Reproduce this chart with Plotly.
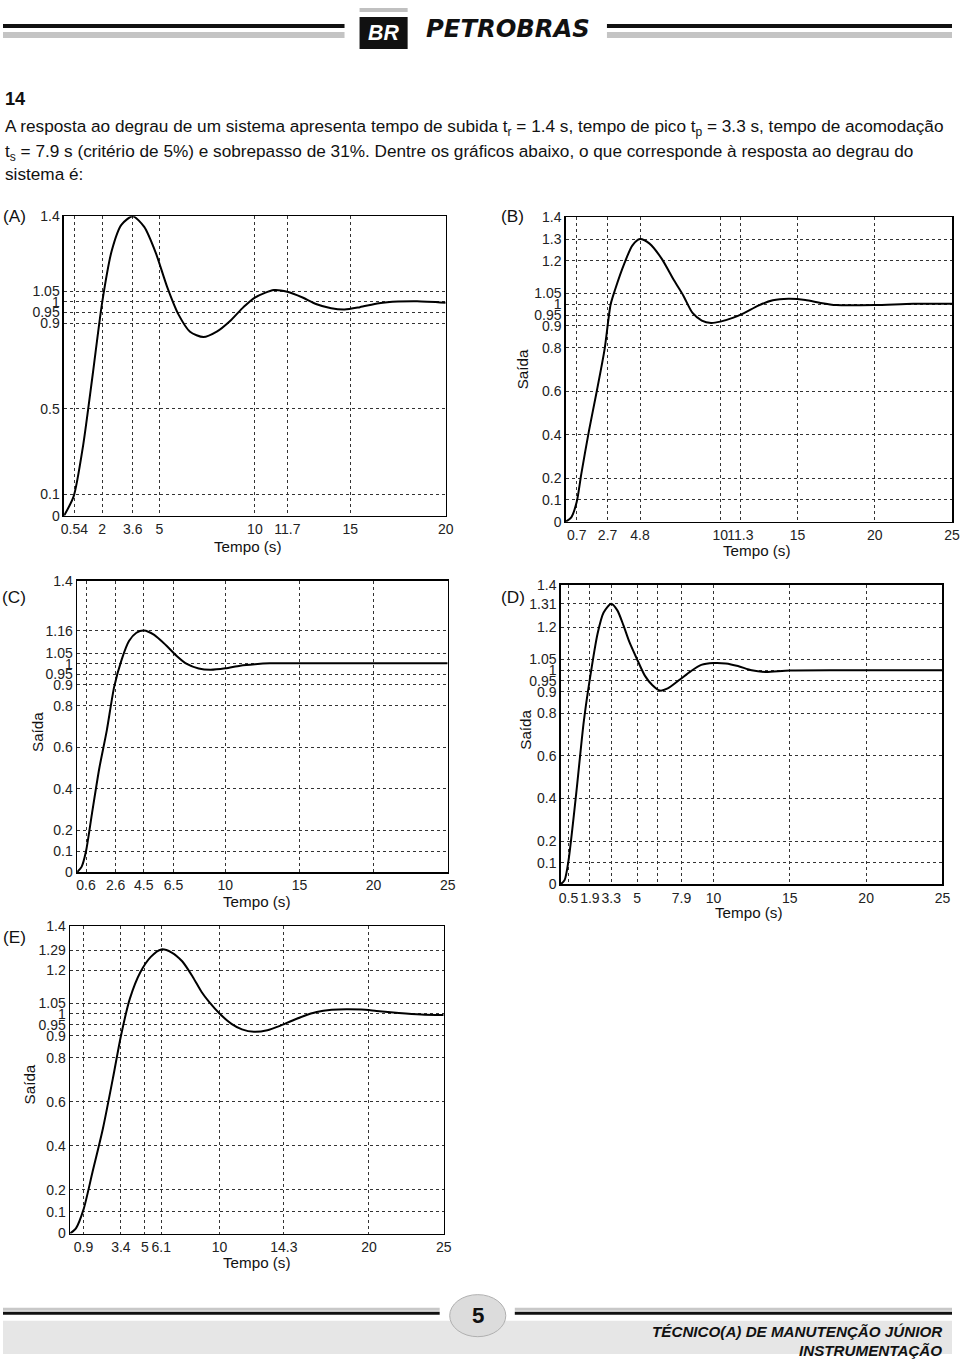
import plotly.graph_objects as go

W, H = 960, 1362
# the photographed page comes out slightly shrunk and shifted; these undo it
S, OX, OY = 0.987, 4.0, 7.0

# ---- step response curves (time in s, output) ----
a_t = [0, 0.5, 1.0, 1.5, 2.0, 2.5, 3.0, 3.6, 4.2, 4.8, 5.4, 6.0, 6.6, 7.3, 8.0, 8.7, 9.4, 10.0, 11.0, 11.7,
       12.5, 13.2, 14.0, 14.7, 15.5, 16.5, 17.5, 18.5, 20.0]
a_y = [0, 0.09, 0.33, 0.66, 1.0, 1.24, 1.36, 1.40, 1.35, 1.23, 1.07, 0.94, 0.86, 0.835, 0.86, 0.91, 0.975,
       1.02, 1.055, 1.047, 1.02, 0.99, 0.97, 0.964, 0.975, 0.993, 1.001, 1.003, 0.996]

b_t = [0, 0.35, 0.7, 1.0, 1.5, 2.0, 2.5, 2.9, 3.2, 3.8, 4.3, 4.8, 5.4, 6.2, 7.0, 7.6, 8.2, 8.8, 9.4, 10.0,
       10.8, 11.5, 12.5, 13.4, 14.4, 15.5, 16.5, 17.5, 20.0, 22.5, 25.0]
b_y = [0, 0.02, 0.09, 0.22, 0.42, 0.6, 0.79, 1.0, 1.07, 1.19, 1.27, 1.30, 1.28, 1.21, 1.11, 1.04, 0.96, 0.925,
       0.914, 0.92, 0.937, 0.958, 0.995, 1.018, 1.025, 1.02, 1.006, 0.996, 0.996, 1.002, 1.002]

c_t = [0, 0.3, 0.6, 1.0, 1.5, 2.0, 2.5, 3.0, 3.5, 4.0, 4.5, 5.2, 6.0, 6.7, 7.4, 8.2, 9.0, 10.0, 11.0, 12.0,
       13.0, 17.0, 25.0]
c_y = [0, 0.025, 0.1, 0.28, 0.5, 0.68, 0.89, 1.02, 1.11, 1.15, 1.161, 1.14, 1.09, 1.04, 1.0, 0.978, 0.972,
       0.979, 0.992, 0.999, 1.003, 1.003, 1.003]

d_t = [0, 0.25, 0.5, 1.0, 1.5, 1.9, 2.4, 2.8, 3.3, 3.7, 4.1, 4.5, 4.95, 5.5, 6.0, 6.5, 7.0, 7.8, 8.5, 9.2,
       10.0, 10.8, 11.6, 12.5, 13.4, 15.0, 20.0, 25.0]
d_y = [0, 0.02, 0.11, 0.42, 0.76, 0.96, 1.17, 1.27, 1.311, 1.28, 1.21, 1.13, 1.058, 0.975, 0.93, 0.905,
       0.915, 0.957, 0.995, 1.025, 1.034, 1.032, 1.02, 1.0, 0.992, 0.999, 1.0, 1.0]

e_t = [0, 0.4, 0.9, 1.5, 2.2, 2.9, 3.4, 4.0, 4.7, 5.4, 6.1, 6.8, 7.5, 8.2, 8.8, 9.3, 10.0, 10.8, 11.5, 12.3,
       13.2, 14.0, 14.8, 15.6, 16.5, 17.5, 18.5, 19.5, 20.5, 22.0, 23.5, 25.0]
e_y = [0, 0.025, 0.11, 0.28, 0.48, 0.72, 0.9, 1.07, 1.19, 1.26, 1.294, 1.28, 1.24, 1.17, 1.1, 1.055, 1.002,
       0.955, 0.93, 0.919, 0.926, 0.945, 0.968, 0.99, 1.009, 1.019, 1.022, 1.02, 1.014, 1.005, 0.998, 0.995]

# ---- tick values / labels ----
a_xticks = [0.54, 2, 3.6, 5, 10, 11.7, 15, 20]
a_xlabels = ["0.54", "2", "3.6", "5", "10", "11.7", "15", "20"]
a_yticks = [0, 0.1, 0.5, 0.9, 0.95, 1, 1.05, 1.4]

b_xticks = [0.7, 2.7, 4.8, 10, 11.3, 15, 20, 25]
b_xlabels = ["0.7", "2.7", "4.8", "10", "11.3", "15", "20", "25"]
b_yticks = [0, 0.1, 0.2, 0.4, 0.6, 0.8, 0.9, 0.95, 1, 1.05, 1.2, 1.3, 1.4]

c_xticks = [0.6, 2.6, 4.5, 6.5, 10, 15, 20, 25]
c_xlabels = ["0.6", "2.6", "4.5", "6.5", "10", "15", "20", "25"]
c_yticks = [0, 0.1, 0.2, 0.4, 0.6, 0.8, 0.9, 0.95, 1, 1.05, 1.16, 1.4]

d_xticks = [0.5, 1.9, 3.3, 5, 6.3, 7.9, 10, 15, 20, 25]
d_xlabels = ["0.5", "1.9", "3.3", "5", "", "7.9", "10", "15", "20", "25"]
d_yticks = [0, 0.1, 0.2, 0.4, 0.6, 0.8, 0.9, 0.95, 1, 1.05, 1.2, 1.31, 1.4]

e_xticks = [0.9, 3.4, 5, 6.1, 10, 14.3, 20, 25]
e_xlabels = ["0.9", "3.4", "5", "6.1", "10", "14.3", "20", "25"]
e_yticks = [0, 0.1, 0.2, 0.4, 0.6, 0.8, 0.9, 0.95, 1, 1.05, 1.2, 1.29, 1.4]

FONT = "Liberation Sans, Arial, sans-serif"


# target page pixel -> paper fraction
def px(x):
    return min(1.0, max(0.0, (x - OX) / S / W))


def py(y):
    return min(1.0, max(0.0, 1 - (y - OY) / S / H))


def fs(size):
    return round(size / S, 1)


fig = go.Figure()


def add_panel(n, t, y, xticks, xlabels, yticks, xmax, box):
    l, r, top, bot = box
    sfx = "" if n == 1 else str(n)
    fig.add_trace(go.Scatter(x=t, y=y, mode="lines", line=dict(color="black", width=2, shape="spline", smoothing=0.7),
                             xaxis="x" + sfx, yaxis="y" + sfx, showlegend=False, hoverinfo="skip"))
    common = dict(showgrid=True, gridcolor="#333", griddash="dot", gridwidth=1, zeroline=False,
                  showline=True, linecolor="black", linewidth=1.6, mirror=True, ticks="",
                  tickfont=dict(family=FONT, size=14, color="#222"), fixedrange=True)
    fig.layout["xaxis" + sfx] = dict(domain=[px(l), px(r)], range=[0, xmax], tickvals=xticks, ticktext=xlabels,
                                     tickangle=0, anchor="y" + sfx, **common)
    fig.layout["yaxis" + sfx] = dict(domain=[py(bot), py(top)], range=[0, 1.4], tickvals=yticks,
                                     ticktext=[("%g" % v) for v in yticks], anchor="x" + sfx, **common)


add_panel(1, a_t, a_y, a_xticks, a_xlabels, a_yticks, 20, (65, 446, 215, 514))
add_panel(2, b_t, b_y, b_xticks, b_xlabels, b_yticks, 25, (566, 953, 216, 520))
add_panel(3, c_t, c_y, c_xticks, c_xlabels, c_yticks, 25, (78, 448, 579, 870))
add_panel(4, d_t, d_y, d_xticks, d_xlabels, d_yticks, 25, (561, 942, 583, 882))
add_panel(5, e_t, e_y, e_xticks, e_xlabels, e_yticks, 25, (71, 444, 924, 1231))

ann = []


def text(x, y, s, size=14, anchor="center", angle=0, bold=False, italic=False, color="#111", family=FONT):
    st = s
    if bold:
        st = "<b>" + st + "</b>"
    if italic:
        st = "<i>" + st + "</i>"
    ann.append(dict(x=px(x), y=py(y), xref="paper", yref="paper", text=st, showarrow=False, xanchor=anchor,
                    yanchor="middle", textangle=angle, font=dict(family=family, size=fs(size), color=color)))


# question text
text(4, 98, "14", size=18, anchor="left", bold=True)
text(4, 126, "A resposta ao degrau de um sistema apresenta tempo de subida t<sub>r</sub> = 1.4 s, tempo de pico "
             "t<sub>p</sub> = 3.3 s, tempo de acomodação", size=17, anchor="left")
text(4, 151, "t<sub>s</sub> = 7.9 s (critério de 5%) e sobrepasso de 31%. Dentre os gráficos abaixo, o que "
             "corresponde à resposta ao degrau do", size=17, anchor="left")
text(4, 173, "sistema é:", size=17, anchor="left")

# panel letters
for lbl, x, y in [("(A)", 15, 215), ("(B)", 513, 215), ("(C)", 15, 595), ("(D)", 513, 595), ("(E)", 15, 935)]:
    text(x, y, lbl, size=17)

# axis titles
for x, y in [(249, 545), (757, 549), (258, 899), (749, 910), (258, 1260)]:
    text(x, y, "Tempo (s)", size=15)
for x, y in [(523, 368), (39, 730), (526, 728), (30, 1082)]:
    text(x, y, "Saída", size=15, angle=-90)

# header
text(384, 32, "BR", size=21, bold=True, italic=True, color="white")
text(424, 27, "PETROBRAS", size=24, anchor="left", bold=True, italic=True, family="DejaVu Sans")

# footer
text(478, 1313, "5", size=22, bold=True)
text(944, 1329, "TÉCNICO(A) DE MANUTENÇÃO JÚNIOR", size=15, anchor="right", bold=True, italic=True)
text(944, 1348, "INSTRUMENTAÇÃO", size=15, anchor="right", bold=True, italic=True)

shapes = []


def rect(x0, y0, x1, y1, color, kind="rect", line=None):
    shapes.append(dict(type=kind, xref="paper", yref="paper", x0=px(x0), x1=px(x1), y0=py(y1), y1=py(y0),
                       fillcolor=color, line=line or dict(width=0), layer="below"))


# header bars + logo box
rect(3, 23, 345, 27, "#111")
rect(3, 31, 345, 37, "#c4c4c4")
rect(607, 23, 955, 27, "#111")
rect(607, 31, 955, 37, "#c4c4c4")
rect(360, 0, 408, 11, "#c0c0c0")
rect(360, 16, 408, 48, "#111")

# footer bars + page number badge
rect(3, 1318, 960, 1360, "#e6e6e6")
rect(3, 1305, 440, 1308, "#c8c8c8")
rect(3, 1309, 440, 1312, "#111")
rect(515, 1305, 955, 1308, "#c8c8c8")
rect(515, 1309, 955, 1312, "#111")
rect(450, 1292, 506, 1334, "#dcdcdc", kind="circle", line=dict(color="#b0b0b0", width=1))

fig.update_layout(width=W, height=H, margin=dict(l=0, r=0, t=0, b=0), paper_bgcolor="white",
                  plot_bgcolor="white", annotations=ann, shapes=shapes, showlegend=False,
                  font=dict(family=FONT))

page_css = ("document.documentElement.style.margin='0';document.documentElement.style.overflow='hidden';"
            "document.body.style.margin='0';document.body.style.overflow='hidden';")
fig.write_html("out.html", config={"displayModeBar": False, "staticPlot": True}, post_script=page_css)
